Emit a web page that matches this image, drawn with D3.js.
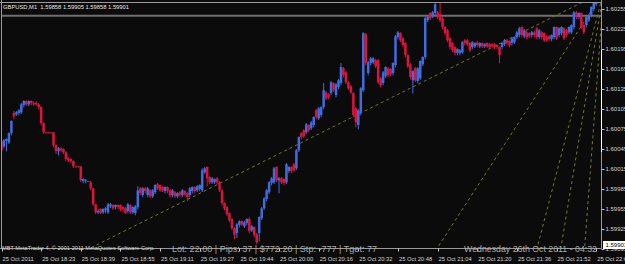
<!DOCTYPE html>
<html>
<head>
<meta charset="utf-8">
<script src="https://cdn.jsdelivr.net/npm/d3@7/dist/d3.min.js"></script>
<style>
html, body { margin: 0; padding: 0; background: #0b0b0b; overflow: hidden; }
svg { display: block; }
text { font-family: "Liberation Sans", Arial, sans-serif; }
</style>
</head>
<body>
<svg width="625" height="264"></svg>
<script>
// GBPUSD M1, 25 Oct 2011, one bar per minute (18:07 .. 22:08)
const open = [
1.60057,1.60049,1.60057,1.60055,1.60069,1.60099,1.60097,1.60099,1.60100,1.60111,
1.60117,1.60112,1.60117,1.60114,1.60114,1.60112,1.60108,1.60084,1.60070,1.60070,
1.60070,1.60070,1.60051,1.60042,1.60046,1.60045,1.60040,1.60031,1.60030,1.60027,
1.60019,1.60019,1.60019,1.59997,1.59997,1.59997,1.59995,1.59986,1.59962,1.59950,
1.59955,1.59950,1.59953,1.59950,1.59959,1.59961,1.59958,1.59961,1.59961,1.59958,
1.59956,1.59952,1.59961,1.59950,1.59949,1.59958,1.59986,1.59976,1.59986,1.59976,
1.59983,1.59974,1.59980,1.59992,1.59991,1.59988,1.59982,1.59988,1.59983,1.59976,
1.59980,1.59974,1.59980,1.59976,1.59982,1.59979,1.59976,1.59982,1.59988,1.59983,
1.59985,1.59983,1.60010,1.60018,1.60003,1.59995,1.59995,1.60001,1.59995,1.59983,
1.59964,1.59958,1.59949,1.59940,1.59926,1.59919,1.59931,1.59937,1.59929,1.59934,
1.59940,1.59923,1.59928,1.59917,1.59919,1.59941,1.59956,1.59970,1.59980,1.59994,
1.59995,1.60018,1.59998,1.60001,1.60000,1.59995,1.60012,1.60018,1.60022,1.60016,
1.60043,1.60069,1.60073,1.60070,1.60081,1.60076,1.60081,1.60103,1.60091,1.60096,
1.60108,1.60130,1.60127,1.60129,1.60144,1.60126,1.60138,1.60144,1.60166,1.60160,
1.60145,1.60139,1.60129,1.60106,1.60081,1.60099,1.60133,1.60217,1.60159,1.60174,
1.60175,1.60178,1.60178,1.60151,1.60144,1.60154,1.60166,1.60165,1.60159,1.60171,
1.60213,1.60219,1.60211,1.60204,1.60186,1.60172,1.60148,1.60166,1.60147,1.60151,
1.60172,1.60183,1.60238,1.60249,1.60244,1.60249,1.60250,1.60247,1.60241,1.60228,
1.60223,1.60211,1.60204,1.60198,1.60189,1.60189,1.60190,1.60208,1.60208,1.60204,
1.60198,1.60199,1.60205,1.60199,1.60204,1.60199,1.60204,1.60202,1.60202,1.60202,
1.60201,1.60198,1.60198,1.60202,1.60208,1.60207,1.60204,1.60205,1.60213,1.60216,
1.60228,1.60214,1.60220,1.60219,1.60216,1.60220,1.60226,1.60213,1.60220,1.60219,
1.60214,1.60214,1.60210,1.60213,1.60228,1.60216,1.60219,1.60226,1.60223,1.60220,
1.60220,1.60228,1.60250,1.60243,1.60249,1.60231,1.60231,1.60238,1.60246,1.60255,
1.60262];
const high = [
1.60058,1.60060,1.60061,1.60070,1.60088,1.60102,1.60102,1.60105,1.60114,1.60118,
1.60118,1.60118,1.60118,1.60117,1.60117,1.60114,1.60109,1.60085,1.60070,1.60070,
1.60070,1.60070,1.60052,1.60048,1.60048,1.60046,1.60042,1.60033,1.60031,1.60028,
1.60019,1.60019,1.60019,1.60001,1.60000,1.59997,1.59997,1.59986,1.59962,1.59955,
1.59956,1.59956,1.59958,1.59964,1.59964,1.59962,1.59962,1.59962,1.59962,1.59959,
1.59958,1.59964,1.59962,1.59959,1.59961,1.59989,1.59988,1.59988,1.59988,1.59988,
1.59985,1.59985,1.59992,1.59994,1.59992,1.59989,1.59989,1.59989,1.59985,1.59985,
1.59982,1.59980,1.59982,1.59985,1.59983,1.59980,1.59988,1.59989,1.59989,1.59991,
1.59992,1.60016,1.60018,1.60019,1.60004,1.60003,1.60001,1.60003,1.59997,1.59985,
1.59965,1.59959,1.59950,1.59941,1.59928,1.59934,1.59938,1.59938,1.59937,1.59941,
1.59943,1.59931,1.59929,1.59919,1.59944,1.59958,1.59973,1.59985,1.59997,1.60003,
1.60018,1.60019,1.60003,1.60003,1.60001,1.60024,1.60019,1.60019,1.60024,1.60045,
1.60064,1.60070,1.60075,1.60084,1.60082,1.60087,1.60094,1.60105,1.60108,1.60109,
1.60144,1.60132,1.60129,1.60147,1.60145,1.60144,1.60150,1.60174,1.60168,1.60162,
1.60147,1.60141,1.60130,1.60108,1.60105,1.60138,1.60220,1.60219,1.60177,1.60183,
1.60183,1.60180,1.60180,1.60153,1.60162,1.60169,1.60168,1.60166,1.60175,1.60216,
1.60222,1.60220,1.60213,1.60205,1.60187,1.60174,1.60163,1.60168,1.60168,1.60178,
1.60184,1.60243,1.60244,1.60250,1.60252,1.60265,1.60252,1.60264,1.60243,1.60229,
1.60225,1.60213,1.60205,1.60199,1.60196,1.60195,1.60207,1.60210,1.60210,1.60205,
1.60207,1.60205,1.60207,1.60205,1.60205,1.60204,1.60205,1.60204,1.60204,1.60204,
1.60202,1.60199,1.60205,1.60210,1.60210,1.60208,1.60213,1.60214,1.60222,1.60228,
1.60229,1.60225,1.60222,1.60220,1.60222,1.60222,1.60228,1.60225,1.60222,1.60220,
1.60216,1.60216,1.60217,1.60229,1.60229,1.60228,1.60229,1.60228,1.60225,1.60229,
1.60232,1.60252,1.60252,1.60250,1.60250,1.60232,1.60244,1.60247,1.60259,1.60265,
1.60270];
const low = [
1.60033,1.60048,1.60043,1.60054,1.60067,1.60091,1.60096,1.60097,1.60099,1.60109,
1.60111,1.60111,1.60112,1.60111,1.60111,1.60106,1.60082,1.60069,1.60070,1.60070,
1.60070,1.60049,1.60039,1.60037,1.60042,1.60039,1.60028,1.60027,1.60025,1.60018,
1.60019,1.60019,1.59997,1.59995,1.59995,1.59997,1.59985,1.59961,1.59949,1.59949,
1.59949,1.59949,1.59950,1.59949,1.59958,1.59955,1.59956,1.59956,1.59953,1.59953,
1.59949,1.59950,1.59949,1.59949,1.59947,1.59956,1.59977,1.59974,1.59980,1.59974,
1.59973,1.59973,1.59979,1.59985,1.59982,1.59982,1.59980,1.59980,1.59974,1.59974,
1.59973,1.59973,1.59974,1.59974,1.59976,1.59968,1.59974,1.59980,1.59980,1.59982,
1.59983,1.59982,1.60009,1.59991,1.59994,1.59994,1.59994,1.59994,1.59982,1.59962,
1.59955,1.59946,1.59937,1.59925,1.59911,1.59913,1.59929,1.59931,1.59928,1.59932,
1.59920,1.59922,1.59914,1.59904,1.59908,1.59940,1.59955,1.59968,1.59979,1.59992,
1.59994,1.59997,1.59980,1.59994,1.59992,1.59994,1.60010,1.60010,1.60012,1.60015,
1.60042,1.60061,1.60063,1.60069,1.60072,1.60075,1.60079,1.60091,1.60090,1.60094,
1.60106,1.60120,1.60121,1.60127,1.60132,1.60124,1.60136,1.60142,1.60154,1.60144,
1.60135,1.60129,1.60094,1.60079,1.60076,1.60097,1.60132,1.60172,1.60157,1.60172,
1.60174,1.60168,1.60144,1.60139,1.60142,1.60153,1.60154,1.60156,1.60157,1.60169,
1.60211,1.60207,1.60199,1.60184,1.60168,1.60151,1.60130,1.60147,1.60145,1.60150,
1.60171,1.60181,1.60237,1.60240,1.60243,1.60247,1.60241,1.60237,1.60226,1.60217,
1.60207,1.60196,1.60192,1.60187,1.60187,1.60187,1.60189,1.60202,1.60201,1.60192,
1.60196,1.60198,1.60199,1.60198,1.60198,1.60198,1.60198,1.60196,1.60198,1.60196,
1.60196,1.60175,1.60196,1.60201,1.60202,1.60199,1.60202,1.60204,1.60211,1.60214,
1.60214,1.60213,1.60211,1.60213,1.60214,1.60214,1.60211,1.60211,1.60211,1.60207,
1.60207,1.60208,1.60208,1.60211,1.60210,1.60214,1.60217,1.60210,1.60214,1.60219,
1.60219,1.60226,1.60241,1.60241,1.60226,1.60219,1.60229,1.60237,1.60244,1.60253,
1.60261];
const close = [
1.60043,1.60058,1.60060,1.60069,1.60087,1.60094,1.60100,1.60103,1.60112,1.60117,
1.60112,1.60117,1.60114,1.60112,1.60112,1.60108,1.60084,1.60070,1.60070,1.60070,
1.60070,1.60051,1.60042,1.60046,1.60043,1.60040,1.60030,1.60028,1.60027,1.60019,
1.60019,1.60019,1.59998,1.60000,1.59998,1.59997,1.59986,1.59962,1.59950,1.59952,
1.59949,1.59955,1.59956,1.59962,1.59962,1.59956,1.59961,1.59958,1.59955,1.59955,
1.59949,1.59962,1.59950,1.59958,1.59959,1.59983,1.59979,1.59986,1.59982,1.59986,
1.59974,1.59983,1.59991,1.59986,1.59983,1.59983,1.59988,1.59982,1.59976,1.59983,
1.59974,1.59979,1.59976,1.59983,1.59977,1.59973,1.59986,1.59988,1.59982,1.59989,
1.59991,1.60013,1.60016,1.60001,1.59995,1.60001,1.60000,1.59995,1.59983,1.59964,
1.59956,1.59947,1.59938,1.59926,1.59916,1.59932,1.59937,1.59932,1.59935,1.59940,
1.59922,1.59929,1.59916,1.59905,1.59943,1.59956,1.59971,1.59983,1.59995,1.60001,
1.60016,1.59998,1.60001,1.59995,1.59994,1.60022,1.60018,1.60012,1.60013,1.60043,
1.60063,1.60063,1.60064,1.60082,1.60073,1.60085,1.60093,1.60093,1.60106,1.60108,
1.60133,1.60121,1.60123,1.60145,1.60133,1.60142,1.60148,1.60168,1.60156,1.60145,
1.60136,1.60130,1.60096,1.60085,1.60103,1.60136,1.60219,1.60174,1.60175,1.60181,
1.60181,1.60169,1.60145,1.60141,1.60160,1.60168,1.60156,1.60157,1.60174,1.60214,
1.60220,1.60208,1.60201,1.60186,1.60169,1.60153,1.60162,1.60148,1.60166,1.60177,
1.60183,1.60241,1.60243,1.60241,1.60250,1.60262,1.60243,1.60238,1.60228,1.60219,
1.60208,1.60198,1.60193,1.60189,1.60195,1.60193,1.60205,1.60204,1.60202,1.60193,
1.60205,1.60204,1.60201,1.60204,1.60199,1.60202,1.60199,1.60198,1.60199,1.60198,
1.60198,1.60186,1.60204,1.60208,1.60204,1.60201,1.60211,1.60213,1.60220,1.60226,
1.60216,1.60223,1.60213,1.60214,1.60220,1.60216,1.60213,1.60223,1.60213,1.60208,
1.60208,1.60210,1.60216,1.60228,1.60211,1.60226,1.60228,1.60211,1.60216,1.60228,
1.60231,1.60250,1.60243,1.60249,1.60228,1.60220,1.60243,1.60246,1.60258,1.60264,
1.60268];

const timeLabels = ["25 Oct 2011","25 Oct 18:23","25 Oct 18:39","25 Oct 18:55","25 Oct 19:11",
  "25 Oct 19:27","25 Oct 19:44","25 Oct 20:00","25 Oct 20:16","25 Oct 20:32","25 Oct 20:48",
  "25 Oct 21:04","25 Oct 21:20","25 Oct 21:36","25 Oct 21:52","25 Oct 22:08"];
const timeLabelBars = [0,16,32,48,64,80,96,112,128,144,160,176,192,208,224,240];
const priceTicks = [1.60255,1.60225,1.60195,1.60165,1.60135,1.60105,1.60075,1.60045,
  1.60015,1.59985,1.59955,1.59925,1.59895];
const bidPrice = 1.59901;
const levelLine = 1.60245;
// gann fan: common origin, other ends (bar index) at the low price
const fanOrigin = [243, 1.60281];
const fanEndBars = [27, 173, 215, 225, 235];
const fanEndPrice = 1.59880;

const svg = d3.select("svg");
const plot = {left: 1.5, right: 601.5, top: 2.5, bottom: 248.5};

const x = d3.scaleLinear().domain([0, 240]).range([1.5, 596.2]);
const y = d3.scaleLinear().domain([1.59925, 1.60255]).range([229, 9]);

svg.append("defs").append("clipPath").attr("id", "clip")
  .append("rect").attr("x", plot.left).attr("y", plot.top)
  .attr("width", plot.right - plot.left).attr("height", plot.bottom - plot.top);

const g = svg.append("g").attr("clip-path", "url(#clip)");

// horizontal price level
g.append("line")
  .attr("x1", plot.left).attr("x2", plot.right)
  .attr("y1", y(levelLine)).attr("y2", y(levelLine))
  .attr("stroke", "#6f6f6f").attr("stroke-width", 2);

// gann fan lines
g.selectAll(".fan").data(fanEndBars).enter().append("line")
  .attr("class", "fan")
  .attr("x1", x(fanOrigin[0])).attr("y1", y(fanOrigin[1]))
  .attr("x2", d => x(d)).attr("y2", y(fanEndPrice))
  .attr("stroke", "#77772a").attr("stroke-width", 1)
  .attr("stroke-dasharray", "3,3");

// candles
const bars = d3.range(open.length);
const colorOf = i => close[i] > open[i] ? "#3f6ce0" : "#dc143c";

g.selectAll(".wick").data(bars).enter().append("line")
  .attr("class", "wick")
  .attr("x1", i => x(i)).attr("x2", i => x(i))
  .attr("y1", i => y(high[i])).attr("y2", i => y(low[i]) + 1)
  .attr("stroke", colorOf).attr("stroke-width", 1);

g.selectAll(".body").data(bars).enter().append("rect")
  .attr("class", "body")
  .attr("x", i => x(i) - 1.25)
  .attr("y", i => Math.min(y(open[i]), y(close[i])))
  .attr("width", 2.5)
  .attr("height", i => Math.max(1, Math.abs(y(open[i]) - y(close[i]))))
  .attr("fill", colorOf);

// frame
svg.append("line").attr("x1", plot.left).attr("x2", plot.left).attr("y1", 0).attr("y2", plot.bottom)
  .attr("stroke", "#9a9a9a");
svg.append("line").attr("x1", 0).attr("x2", plot.right).attr("y1", plot.top).attr("y2", plot.top)
  .attr("stroke", "#9a9a9a");
svg.append("line").attr("x1", 0).attr("x2", plot.right).attr("y1", plot.bottom).attr("y2", plot.bottom)
  .attr("stroke", "#9a9a9a");
svg.append("line").attr("x1", plot.right).attr("x2", plot.right).attr("y1", 0).attr("y2", plot.bottom)
  .attr("stroke", "#9a9a9a");
svg.append("line").attr("x1", plot.right).attr("x2", plot.right).attr("y1", 50).attr("y2", 152)
  .attr("stroke", "#ffffff");

// price axis
const yAxis = svg.append("g").attr("transform", "translate(" + plot.right + ",0)")
  .call(d3.axisRight(y).tickValues(priceTicks).tickSize(3).tickFormat(d3.format(".5f")));
yAxis.select(".domain").remove();
yAxis.selectAll("line").attr("stroke", "#c8c8c8");
yAxis.selectAll("text").attr("x", 4).attr("fill", "#d4d4d4")
  .style("font-size", "6px").style("font-family", "Liberation Sans, Arial, sans-serif");

// current bid box
const bid = svg.append("g");
bid.append("rect").attr("x", plot.right + 1.5).attr("y", y(bidPrice) - 4)
  .attr("width", 24).attr("height", 8).attr("fill", "#ffffff");
bid.append("text").attr("x", plot.right + 4).attr("y", y(bidPrice) + 2.3)
  .attr("fill", "#000").style("font-size", "6px").text(d3.format(".5f")(bidPrice));

// time axis
const tg = svg.append("g");
tg.selectAll("line").data(timeLabelBars).enter().append("line")
  .attr("x1", d => Math.round(x(d)) + 0.5).attr("x2", d => Math.round(x(d)) + 0.5)
  .attr("y1", plot.bottom).attr("y2", plot.bottom + 3)
  .attr("stroke", "#c8c8c8");
tg.selectAll("text").data(timeLabelBars).enter().append("text")
  .attr("x", d => x(d) + 1).attr("y", 261)
  .attr("fill", "#d4d4d4").style("font-size", "5.8px")
  .text((d, i) => timeLabels[i]);

// texts
svg.append("text").attr("x", 3).attr("y", 8.5).attr("fill", "#e6e6e6")
  .style("font-size", "5.8px").attr("xml:space", "preserve")
  .text("GBPUSD,M1  1.59858 1.59905 1.59858 1.59901");
svg.append("text").attr("x", 2).attr("y", 250).attr("fill", "#d8d8d8")
  .style("font-size", "5.6px")
  .text("MBT MetaTrader 4, \u00a9 2001-2011 MetaQuotes Software Corp.");
svg.append("text").attr("x", 172).attr("y", 251.5).attr("fill", "#a9a9a9")
  .style("font-size", "9px").attr("textLength", 205).attr("lengthAdjust", "spacingAndGlyphs")
  .text("Lot: 22.00 | Pips: 37 | $772.20 | Stp: -777 | Tget: 77");
svg.append("text").attr("x", 464).attr("y", 251.5).attr("fill", "#a9a9a9")
  .style("font-size", "9px").attr("textLength", 133).attr("lengthAdjust", "spacingAndGlyphs")
  .text("Wednesday 26th Oct 2011 - 04:32");
</script>
</body>
</html>
